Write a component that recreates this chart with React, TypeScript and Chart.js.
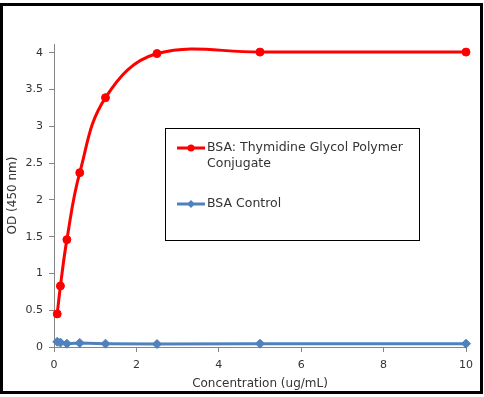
import { useEffect, useRef } from 'react';
import { Chart, registerables } from 'chart.js';

Chart.register(...registerables);

const concentrations = [0.078, 0.156, 0.3125, 0.625, 1.25, 2.5, 5, 10];
const conjugateOD = [0.45, 0.83, 1.46, 2.37, 3.39, 3.99, 4.01, 4.01];
const controlOD = [0.07, 0.06, 0.045, 0.055, 0.045, 0.04, 0.045, 0.045];
const xTickValues = [0, 2, 4, 6, 8, 10];
const yTickValues = [0, 0.5, 1, 1.5, 2, 2.5, 3, 3.5, 4];
const conjugateLabel = ['BSA: Thymidine Glycol Polymer', 'Conjugate'];
const controlLabel = ['BSA Control'];
const xTitle = 'Concentration (ug/mL)';
const yTitle = 'OD (450 nm)';

const FONT = '"DejaVu Sans", sans-serif';
const RED = '#ff0000';
const BLUE = '#4f81bd';
const AXIS = '#868686';
const TEXT = '#333333';

const legendPlugin = {
  id: 'boxLegend',
  afterDraw(chart: any) {
    const ctx = chart.ctx as CanvasRenderingContext2D;
    ctx.save();
    const bx = 165.5, by = 128.5, bw = 254, bh = 112;
    ctx.fillStyle = '#ffffff';
    ctx.fillRect(bx, by, bw, bh);
    ctx.strokeStyle = '#000000';
    ctx.lineWidth = 1;
    ctx.strokeRect(bx, by, bw, bh);
    const entries = [
      { color: RED, lines: conjugateLabel, y: 148, style: 'circle' },
      { color: BLUE, lines: controlLabel, y: 204, style: 'diamond' },
    ];
    ctx.font = `12.5px ${FONT}`;
    ctx.textBaseline = 'middle';
    ctx.textAlign = 'left';
    for (const e of entries) {
      ctx.strokeStyle = e.color;
      ctx.lineWidth = 3;
      ctx.beginPath();
      ctx.moveTo(177, e.y);
      ctx.lineTo(205, e.y);
      ctx.stroke();
      ctx.fillStyle = e.color;
      ctx.beginPath();
      if (e.style === 'circle') {
        ctx.arc(191, e.y, 3.5, 0, Math.PI * 2);
      } else {
        ctx.moveTo(191, e.y - 4);
        ctx.lineTo(195, e.y);
        ctx.lineTo(191, e.y + 4);
        ctx.lineTo(187, e.y);
        ctx.closePath();
      }
      ctx.fill();
      ctx.fillStyle = TEXT;
      e.lines.forEach((t, i) => ctx.fillText(t, 207, e.y + i * 16));
    }
    ctx.restore();
  },
};

export default function App() {
  const ref = useRef<HTMLCanvasElement>(null);
  useEffect(() => {
    document.body.style.margin = '0';
    const chart = new Chart(ref.current!, {
      type: 'line',
      data: {
        datasets: [
          {
            label: conjugateLabel.join(' '),
            data: concentrations.map((x, i) => ({ x, y: conjugateOD[i] })),
            borderColor: RED,
            backgroundColor: RED,
            borderWidth: 3,
            pointRadius: 4,
            pointBorderWidth: 1,
            pointStyle: 'circle',
            tension: 0.4,
            clip: false as any,
          },
          {
            label: controlLabel[0],
            data: concentrations.map((x, i) => ({ x, y: controlOD[i] })),
            borderColor: BLUE,
            backgroundColor: BLUE,
            borderWidth: 3,
            pointRadius: 4.5,
            pointBorderWidth: 1,
            pointStyle: 'rectRot',
            tension: 0,
            clip: false as any,
          },
        ],
      },
      options: {
        responsive: false,
        animation: false,
        layout: { padding: { top: 44, right: 18, left: 0, bottom: 0 } },
        plugins: { legend: { display: false }, tooltip: { enabled: false } },
        scales: {
          x: {
            type: 'linear',
            min: 0,
            max: 10,
            afterBuildTicks: (s: any) => {
              s.ticks = xTickValues.map((v) => ({ value: v }));
            },
            afterFit: (s: any) => {
              s.height = 50;
            },
            ticks: {
              color: TEXT,
              font: { family: FONT, size: 11 },
              padding: 7,
              maxRotation: 0,
              callback: (v: any) => String(v),
            },
            grid: { display: true, drawOnChartArea: false, tickLength: 5, color: AXIS },
            border: { color: AXIS, width: 1 },
            title: { display: true, text: xTitle, color: TEXT, font: { family: FONT, size: 12 }, padding: { top: 0, bottom: 6 } },
          },
          y: {
            type: 'linear',
            min: 0,
            max: 4.12,
            afterBuildTicks: (s: any) => {
              s.ticks = yTickValues.map((v) => ({ value: v }));
            },
            afterFit: (s: any) => {
              s.width = 54;
            },
            ticks: {
              color: TEXT,
              font: { family: FONT, size: 11 },
              padding: 6,
              callback: (v: any) => String(v),
            },
            grid: { display: true, drawOnChartArea: false, tickLength: 5, color: AXIS },
            border: { color: AXIS, width: 1 },
            title: { display: true, text: yTitle, color: TEXT, font: { family: FONT, size: 12 }, padding: { top: 6, bottom: 0 } },
          },
        },
      },
      plugins: [legendPlugin],
    });
    return () => chart.destroy();
  }, []);
  return (
    <div style={{ position: 'fixed', left: 0, top: 0, width: 484, height: 397, background: '#fff' }}>
      <canvas ref={ref} width={484} height={397} style={{ position: 'absolute', left: 0, top: 0, display: 'block' }} />
      <div
        style={{
          position: 'absolute',
          left: 0,
          top: 3,
          width: 483,
          height: 391,
          border: '3px solid #000',
          boxSizing: 'border-box',
          pointerEvents: 'none',
        }}
      />
    </div>
  );
}
